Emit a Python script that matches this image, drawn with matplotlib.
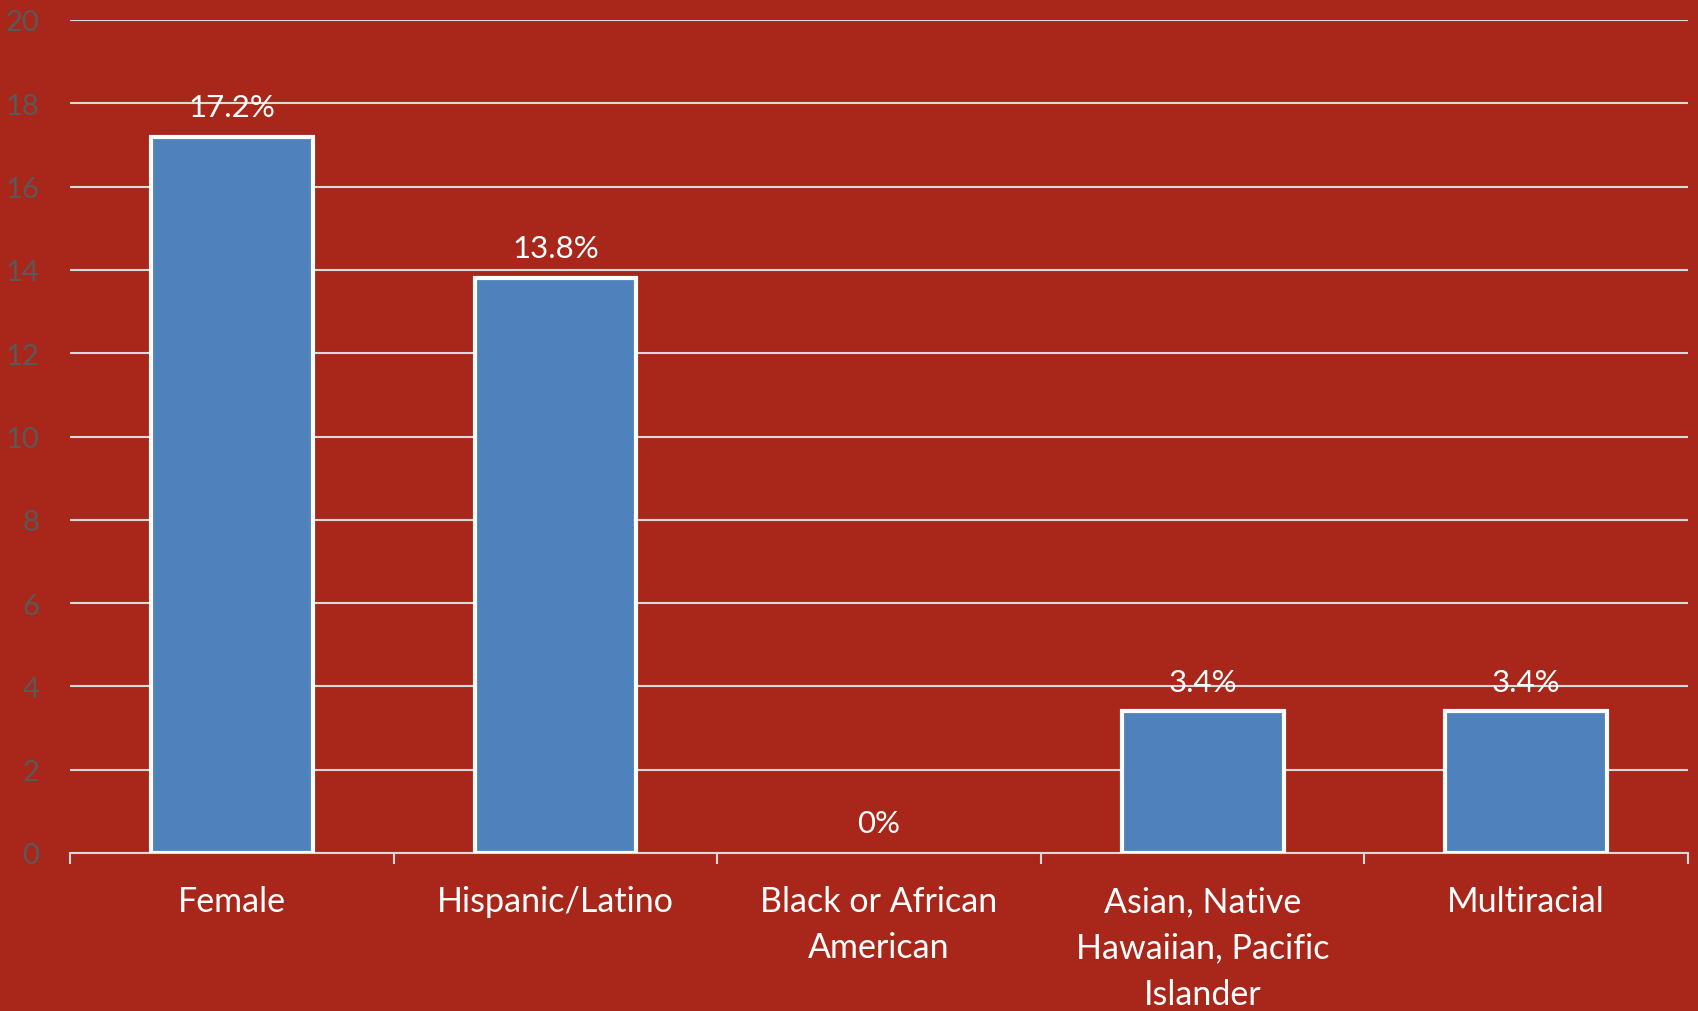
import matplotlib
matplotlib.use("Agg")
import matplotlib.pyplot as plt
import numpy as np

categories = ["Female", "Hispanic/Latino", "Black or African\nAmerican",
              "Asian, Native\nHawaiian, Pacific\nIslander", "Multiracial"]
values = [17.2, 13.8, 0.0, 3.4, 3.4]
labels = ["17.2%", "13.8%", "0%", "3.4%", "3.4%"]
yticks = [0, 2, 4, 6, 8, 10, 12, 14, 16, 18, 20]

bg = "#A8271A"
plt.rcParams['font.family'] = ['Lato', 'DejaVu Sans']

fig = plt.figure(figsize=(16.98, 10.12), dpi=100, facecolor=bg)
ax = fig.add_axes([70/1698, 1-854/1012, (1688-70)/1698, (854-21)/1012])
ax.set_facecolor(bg)

x = np.arange(len(categories))
bars = ax.bar(x, values, width=0.5, color="#4F81BD", edgecolor="white", linewidth=3, zorder=3)
for b, v in zip(bars, values):
    if v == 0:
        b.set_linewidth(0)

for xi, v, lab in zip(x, values, labels):
    ax.annotate(lab, (xi, v), xytext=(0, 15), textcoords="offset points",
                ha="center", va="baseline", color="white", fontsize=22.5, zorder=4)

ax.set_xlim(-0.5, len(categories) - 0.5)
ax.set_ylim(0, 20)
ax.set_yticks(yticks)
ax.set_yticklabels([str(t) for t in yticks])
ax.yaxis.grid(True, color="#D9D9D9", linewidth=1.5, zorder=0)
ax.set_axisbelow(True)

ax.set_xticks(x)
ax.set_xticklabels(categories, color="white", fontsize=24.5, linespacing=1.55)
ax.set_xticks(np.arange(-0.5, len(categories)), minor=True)
ax.tick_params(axis="x", which="major", length=0, pad=23)
ax.tick_params(axis="x", which="minor", length=8, width=1.5, color="#D9D9D9")
ax.tick_params(axis="y", length=0, pad=22, labelcolor="#595959", labelsize=21)

for s in ["top", "right", "left"]:
    ax.spines[s].set_visible(False)
ax.spines["bottom"].set_color("#D9D9D9")
ax.spines["bottom"].set_linewidth(1.5)

fig.savefig("out.png", dpi=100, facecolor=bg)
